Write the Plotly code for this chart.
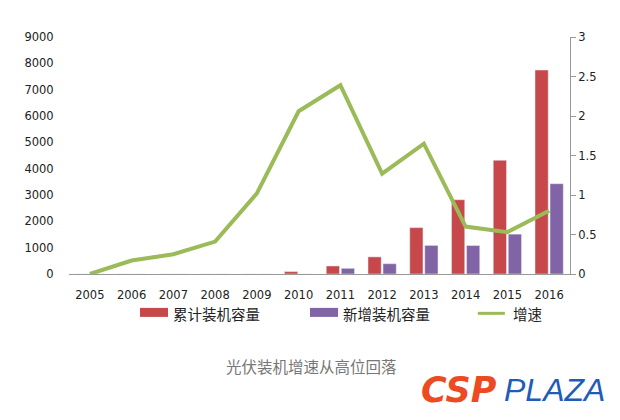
import plotly.graph_objects as go

years = ["2005", "2006", "2007", "2008", "2009", "2010", "2011", "2012", "2013", "2014", "2015", "2016"]
cumulative = [0, 0, 0, 0, 0, 90, 305, 650, 1760, 2820, 4318, 7745]
new_added = [0, 0, 0, 0, 0, 0, 215, 390, 1085, 1080, 1513, 3430]
growth = [0.0, 0.17, 0.25, 0.41, 1.02, 2.06, 2.39, 1.27, 1.65, 0.60, 0.53, 0.80]

names = ["累计装机容量", "新增装机容量", "增速"]
colors = ["#C6484A", "#8064A6", "#9BBB59"]

FONT = "DejaVu Sans"
CJK = "Noto Sans CJK SC"
fig = go.Figure()
fig.add_trace(go.Bar(x=years, y=cumulative, name=names[0], marker_color=colors[0]))
fig.add_trace(go.Bar(x=years, y=new_added, name=names[1], marker_color=colors[1]))
fig.add_trace(go.Scatter(x=years, y=growth, name=names[2], yaxis="y2", mode="lines",
                         line=dict(color=colors[2], width=4)))

fig.update_layout(
    width=612, height=412,
    margin=dict(l=61, r=50, t=29, b=146),
    paper_bgcolor="white", plot_bgcolor="white",
    barmode="group", bargap=0.28, bargroupgap=0.12,
    font=dict(family=FONT, size=12, color="#222"),
    showlegend=False,
    xaxis=dict(type="category", showline=True, linecolor="#999", linewidth=1,
               ticks="outside", ticklen=10, tickcolor="rgba(0,0,0,0)",
               tickfont=dict(family=FONT, size=11.5), showgrid=False),
    yaxis=dict(range=[0, 9000], dtick=1000, showgrid=False, zeroline=False, showline=False,
               ticks="outside", ticklen=12, tickcolor="rgba(0,0,0,0)",
               tickfont=dict(family=FONT, size=11.5)),
    yaxis2=dict(range=[0, 3], dtick=0.5, overlaying="y", side="right", showgrid=False,
                zeroline=False, showline=True, linecolor="#999", linewidth=1,
                ticks="outside", ticklen=5, tickcolor="#999",
                tickfont=dict(family=FONT, size=11.5)),
)

# manual legend (wide swatches like the reference)
ly0, ly1, lyc = -0.181, -0.143, -0.166
fig.add_shape(type="rect", xref="paper", yref="paper", x0=0.1417, x1=0.1976, y0=ly0, y1=ly1,
              fillcolor=colors[0], line=dict(width=0))
fig.add_shape(type="rect", xref="paper", yref="paper", x0=0.481, x1=0.537, y0=ly0, y1=ly1,
              fillcolor=colors[1], line=dict(width=0))
fig.add_shape(type="line", xref="paper", yref="paper", x0=0.816, x1=0.870, y0=lyc, y1=lyc,
              line=dict(color=colors[2], width=3))
for xp, nm in zip([0.2056, 0.545, 0.884], names):
    fig.add_annotation(text=nm, xref="paper", yref="paper", x=xp, y=lyc, showarrow=False,
                       xanchor="left", yanchor="middle", borderpad=0,
                       font=dict(family=CJK, size=14.5, color="#222"))

fig.add_annotation(text="光伏装机增速从高位回落", xref="paper", yref="paper",
                   x=0.485, y=-0.388, showarrow=False, xanchor="center", yanchor="middle",
                   font=dict(family=CJK, size=15.5, color="#777"))
fig.add_annotation(text="<b><i>CSP</i></b>", xref="paper", yref="paper",
                   x=0.698, y=-0.49, showarrow=False, xanchor="left", yanchor="middle",
                   font=dict(family="DejaVu Sans", size=35, color="#EE4A22"))
fig.add_annotation(text="<i>PLAZA</i>", xref="paper", yref="paper",
                   x=0.864, y=-0.49, showarrow=False, xanchor="left", yanchor="middle",
                   font=dict(family="Liberation Sans", size=32, color="#1E5CB8"))

fig.write_html("out.html")
